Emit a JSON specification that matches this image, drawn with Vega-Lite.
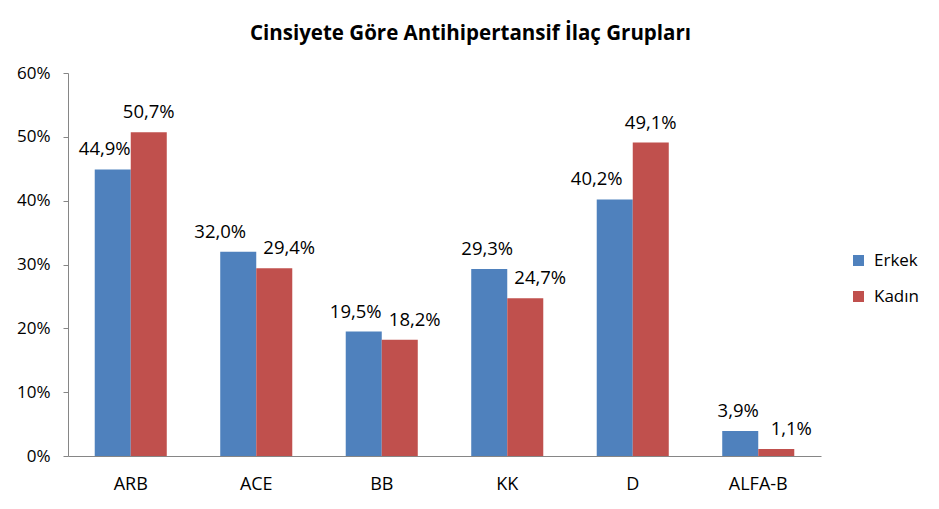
{
  "$schema": "https://vega.github.io/schema/vega-lite/v6.json",
  "autosize": "none",
  "width": 753,
  "height": 383,
  "padding": {"left": 68, "top": 73, "right": 118, "bottom": 53},
  "background": "white",
  "config": {
    "locale": {"number": {"decimal": ",", "thousands": ".", "grouping": [3], "currency": ["", " TL"]}},
    "view": {"stroke": null},
    "font": "Open Sans"
  },
  "title": {
    "text": "Cinsiyete Göre Antihipertansif İlaç Grupları",
    "font": "Open Sans",
    "fontSize": 20.5,
    "fontWeight": "bold",
    "color": "#000000",
    "anchor": "middle",
    "dx": 26,
    "offset": 20
  },
  "data": {
    "values": [
      {"grup": "ARB", "cinsiyet": "Erkek", "oran": 0.449},
      {"grup": "ARB", "cinsiyet": "Kadın", "oran": 0.507},
      {"grup": "ACE", "cinsiyet": "Erkek", "oran": 0.320},
      {"grup": "ACE", "cinsiyet": "Kadın", "oran": 0.294},
      {"grup": "BB", "cinsiyet": "Erkek", "oran": 0.195},
      {"grup": "BB", "cinsiyet": "Kadın", "oran": 0.182},
      {"grup": "KK", "cinsiyet": "Erkek", "oran": 0.293},
      {"grup": "KK", "cinsiyet": "Kadın", "oran": 0.247},
      {"grup": "D", "cinsiyet": "Erkek", "oran": 0.402},
      {"grup": "D", "cinsiyet": "Kadın", "oran": 0.491},
      {"grup": "ALFA-B", "cinsiyet": "Erkek", "oran": 0.039},
      {"grup": "ALFA-B", "cinsiyet": "Kadın", "oran": 0.011}
    ]
  },
  "encoding": {
    "x": {
      "field": "grup", "type": "nominal", "sort": null,
      "scale": {"paddingInner": 0.426, "paddingOuter": 0.213},
      "axis": {"title": null, "labelAngle": 0, "ticks": false, "domainColor": "#868686", "labelFontSize": 18, "labelColor": "#000000", "labelPadding": 19, "labelFont": "Open Sans"}
    },
    "xOffset": {"field": "cinsiyet", "type": "nominal", "scale": {"paddingInner": 0, "paddingOuter": 0}},
    "y": {
      "field": "oran", "type": "quantitative",
      "scale": {"domain": [0, 0.6], "nice": false},
      "axis": {"title": null, "format": ".0%", "values": [0, 0.1, 0.2, 0.3, 0.4, 0.5, 0.6], "grid": false, "domainColor": "#868686", "tickColor": "#868686", "tickSize": 5, "labelFontSize": 17, "labelColor": "#000000", "labelPadding": 13, "labelFont": "Open Sans"}
    }
  },
  "layer": [
    {
      "mark": {"type": "bar"},
      "encoding": {
        "color": {
          "field": "cinsiyet", "type": "nominal",
          "scale": {"domain": ["Erkek", "Kadın"], "range": ["#4F81BD", "#C0504D"]},
          "legend": {"title": null, "orient": "none", "legendX": 782, "legendY": 179, "symbolType": "square", "symbolSize": 121, "labelFontSize": 17, "labelColor": "#000000", "labelFont": "Open Sans", "rowPadding": 18, "symbolStrokeWidth": 0, "labelOffset": 7}
        }
      }
    },
    {
      "transform": [{"filter": {"field": "cinsiyet", "equal": "Erkek"}}, {"filter": {"field": "grup", "oneOf": ["ACE", "D"]}}],
      "mark": {"type": "text", "baseline": "alphabetic", "dy": -14, "dx": -18, "fontSize": 18.5, "color": "#000000", "font": "Open Sans"},
      "encoding": {"text": {"field": "oran", "type": "quantitative", "format": ".1%"}}
    },
    {
      "transform": [{"filter": {"field": "cinsiyet", "equal": "Erkek"}}, {"filter": {"field": "grup", "oneOf": ["ARB", "BB"]}}],
      "mark": {"type": "text", "baseline": "alphabetic", "dy": -14, "dx": -8, "fontSize": 18.5, "color": "#000000", "font": "Open Sans"},
      "encoding": {"text": {"field": "oran", "type": "quantitative", "format": ".1%"}}
    },
    {
      "transform": [{"filter": {"field": "cinsiyet", "equal": "Erkek"}}, {"filter": {"field": "grup", "oneOf": ["KK", "ALFA-B"]}}],
      "mark": {"type": "text", "baseline": "alphabetic", "dy": -14, "dx": -2, "fontSize": 18.5, "color": "#000000", "font": "Open Sans"},
      "encoding": {"text": {"field": "oran", "type": "quantitative", "format": ".1%"}}
    },
    {
      "transform": [{"filter": {"field": "cinsiyet", "equal": "Kadın"}}, {"filter": {"field": "grup", "oneOf": ["ARB", "D"]}}],
      "mark": {"type": "text", "baseline": "alphabetic", "dy": -14, "dx": 0, "fontSize": 18.5, "color": "#000000", "font": "Open Sans"},
      "encoding": {"text": {"field": "oran", "type": "quantitative", "format": ".1%"}}
    },
    {
      "transform": [{"filter": {"field": "cinsiyet", "equal": "Kadın"}}, {"filter": {"field": "grup", "oneOf": ["ACE", "BB", "KK", "ALFA-B"]}}],
      "mark": {"type": "text", "baseline": "alphabetic", "dy": -14, "dx": 15, "fontSize": 18.5, "color": "#000000", "font": "Open Sans"},
      "encoding": {"text": {"field": "oran", "type": "quantitative", "format": ".1%"}}
    }
  ]
}
